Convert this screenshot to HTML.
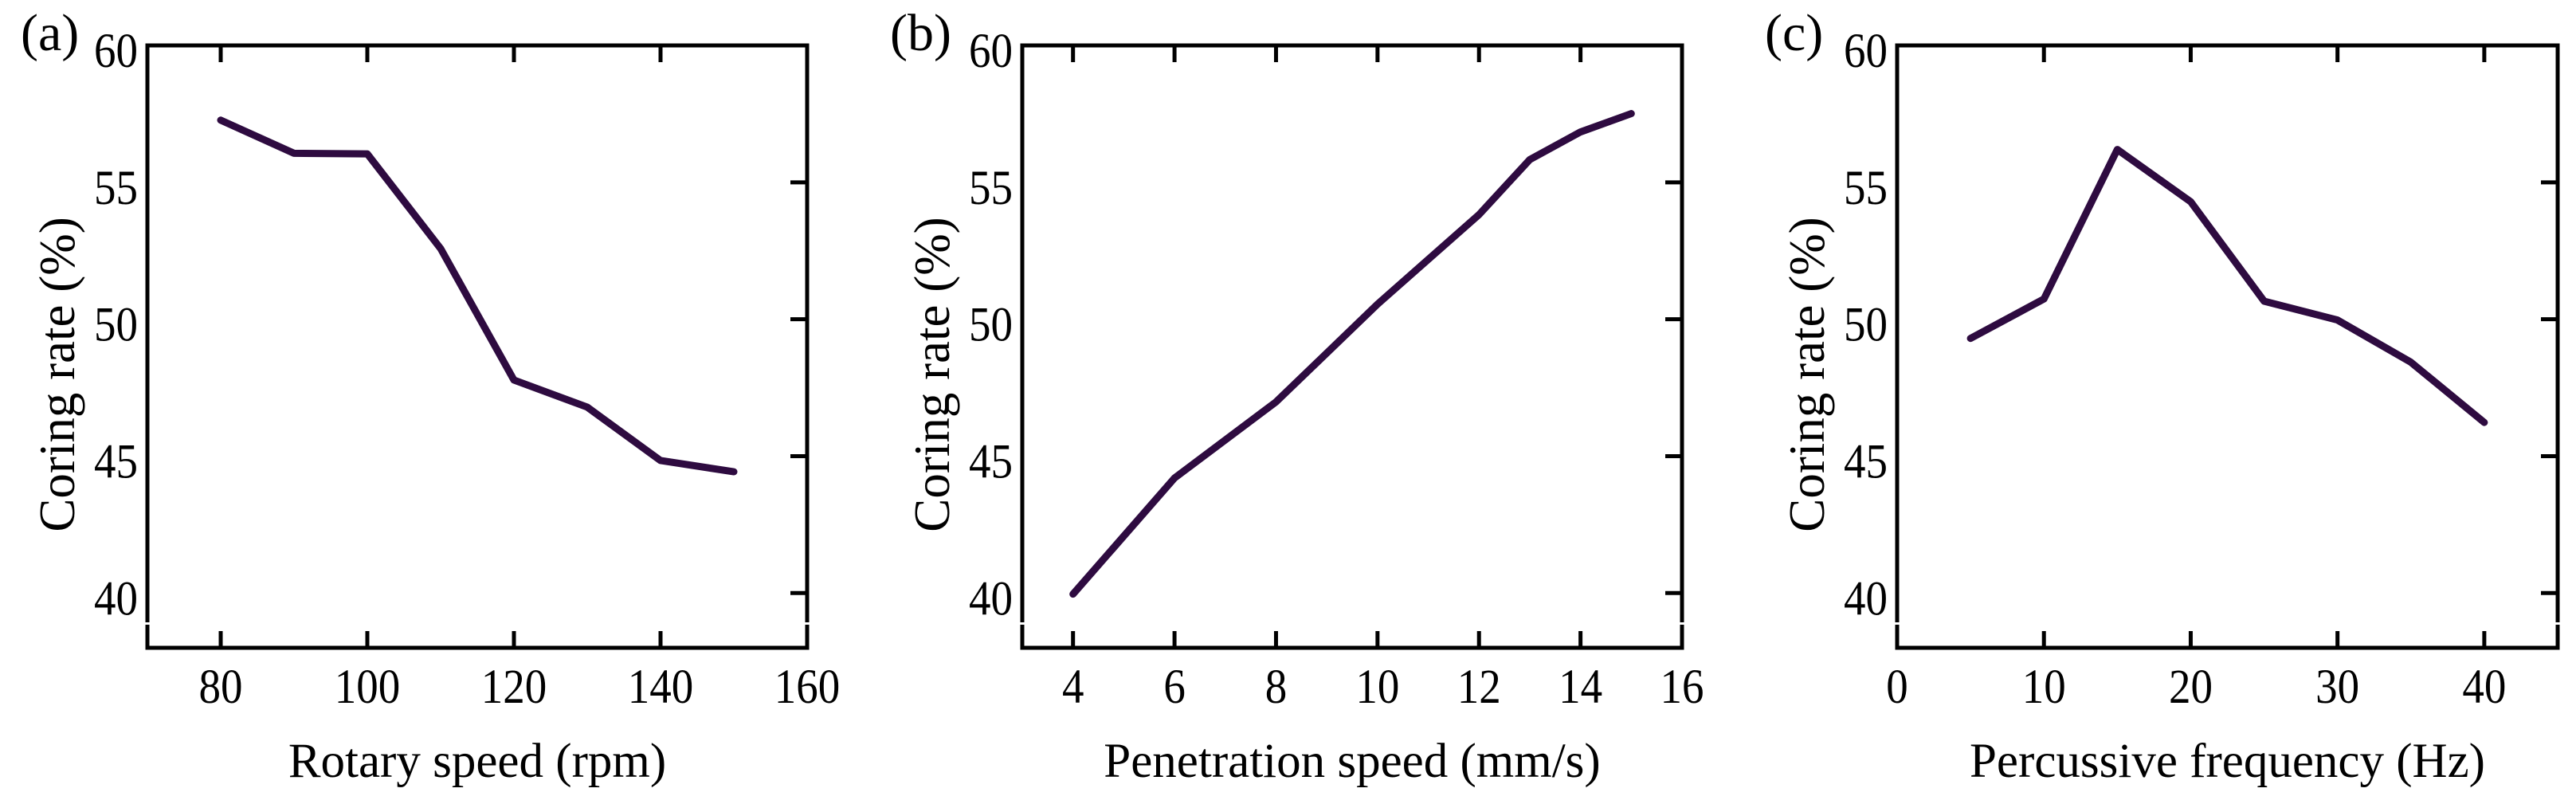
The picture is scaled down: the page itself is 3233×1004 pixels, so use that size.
<!DOCTYPE html>
<html><head><meta charset="utf-8"><style>
html,body{margin:0;padding:0;background:#fff;}
svg{display:block;}
text{font-family:"Liberation Serif",serif;fill:#000;}
</style></head><body>
<svg id="fig" width="3233" height="1004" viewBox="0 0 3233 1004" xmlns="http://www.w3.org/2000/svg"></svg>
<script>
const aX = [80,90,100,110,120,130,140,150];
const aY = [57.27,56.06,56.04,52.58,47.78,46.79,44.84,44.43];
const aTicks = [80,100,120,140,160];
const bX = [4,6,8,10,12,13,14,15];
const bY = [39.96,44.2,46.98,50.55,53.82,55.83,56.84,57.51];
const bTicks = [4,6,8,10,12,14,16];
const cX = [5,10,15,20,25,30,35,40];
const cY = [49.3,50.74,56.2,54.29,50.66,49.97,48.43,46.23];
const cTicks = [0,10,20,30,40];
const yTicks = [40,45,50,55,60];

const NS='http://www.w3.org/2000/svg';
const svgRoot=document.getElementById('fig');
function mk(tag,attrs,parent){const e=document.createElementNS(NS,tag);for(const k in attrs)e.setAttribute(k,attrs[k]);(parent||svgRoot).appendChild(e);return e;}

const panels=[
 {id:'a',label:'(a)',lx:26,left:185,right:1013,xmin:70,xmax:160,xs:aX,ys:aY,ticks:aTicks,title:'Rotary speed (rpm)'},
 {id:'b',label:'(b)',lx:1117,left:1283,right:2111,xmin:3,xmax:16,xs:bX,ys:bY,ticks:bTicks,title:'Penetration speed (mm/s)'},
 {id:'c',label:'(c)',lx:2215,left:2381,right:3210,xmin:0,xmax:45,xs:cX,ys:cY,ticks:cTicks,title:'Percussive frequency (Hz)'}
];
const plotTop=57,plotBottom=813,ymin=38,ymax=60;
panels.forEach(p=>{
 const g=mk('g',{});
 
 
 const sx=v=>p.left+(v-p.xmin)/(p.xmax-p.xmin)*(p.right-p.left);
 const sy=v=>plotBottom-(v-ymin)/(ymax-ymin)*(plotBottom-plotTop);
 p.ticks.forEach(t=>{
  const x=sx(t);
  if(x>p.left+3&&x<p.right-3){
   const t1=mk('line',{x1:x,x2:x,y1:plotBottom,y2:plotBottom-21,stroke:'#000','stroke-width':5},g);
   
   
   const t2=mk('line',{x1:x,x2:x,y1:plotTop,y2:plotTop+21,stroke:'#000','stroke-width':5},g);
   
   
  }
  const tl=mk('text',{x:0,y:0,'text-anchor':'middle','font-size':55,transform:'translate('+x+' 882) scale(1 1.12)'},g);
  tl.textContent=t;
  
  
 });
 yTicks.forEach(t=>{
  const y=sy(t);
  if(t<60){
   const r=mk('line',{x1:p.right,x2:p.right-21,y1:y,y2:y,stroke:'#000','stroke-width':5},g);
   
   
  }
  const tl=mk('text',{x:0,y:0,'text-anchor':'end','font-size':55,transform:'translate('+(p.left-12)+' '+(y+27)+') scale(1 1.12)'},g);
  tl.textContent=t;
  
  
 });
 const frame=mk('rect',{x:p.left,y:plotTop,width:p.right-p.left,height:plotBottom-plotTop,fill:'none',stroke:'#000','stroke-width':5},g);
 
 
 [p.left,p.right].forEach(x=>{
  const br=mk('line',{x1:x,x2:x,y1:781,y2:784,stroke:'#fff','stroke-width':7},g);
  
  
 });
 const pts=p.xs.map((v,i)=>sx(v)+','+sy(p.ys[i])).join(' ');
 const line=mk('polyline',{points:pts,fill:'none',stroke:'#2e0b40','stroke-width':9,'stroke-linecap':'round','stroke-linejoin':'round'},g);
 
 
 const xt=mk('text',{x:(p.left+p.right)/2,y:975,'text-anchor':'middle','font-size':61},g);
 xt.textContent=p.title;
 
 
 const cx=p.left-92;
 const yt=mk('text',{x:cx,y:470,'text-anchor':'middle','font-size':63,transform:'rotate(-90 '+cx+' 470)'},g);
 yt.textContent='Coring rate (%)';
 
 
 const pl=mk('text',{x:p.lx,y:63,'font-size':66},g);
 pl.textContent=p.label;
 
 
});
</script>
</body></html>
